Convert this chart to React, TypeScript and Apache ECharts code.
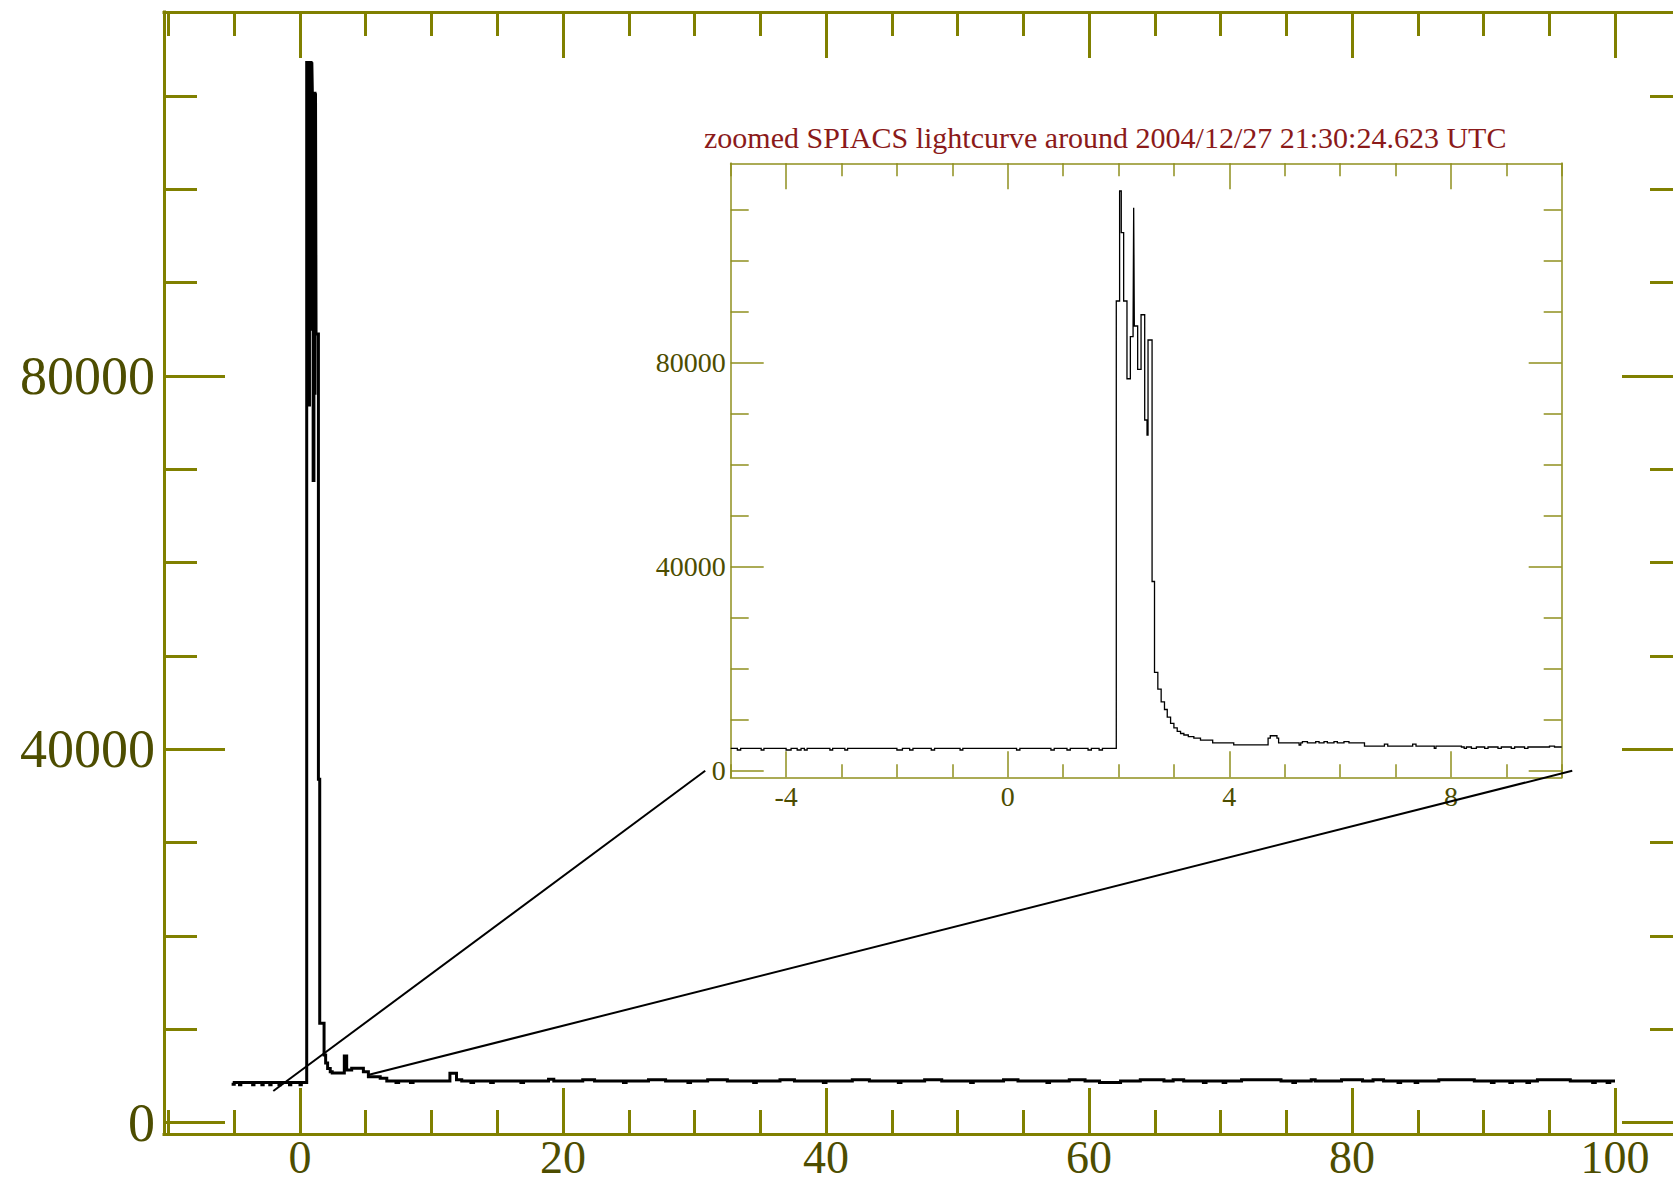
import React, { useEffect, useRef } from "react";
import * as echarts from "echarts";

// ---------- tick / label values ----------
const MAIN_X_MAJOR = [0, 20, 40, 60, 80, 100];
const MAIN_X_MINOR = [-10, -5, 5, 10, 15, 25, 30, 35, 45, 50, 55, 65, 70, 75, 85, 90, 95, 105];
const MAIN_Y_MAJOR = [0, 40000, 80000];
const MAIN_Y_MINOR = [10000, 20000, 30000, 50000, 60000, 70000, 90000, 100000, 110000];
const INSET_X_MAJOR = [-4, 0, 4, 8];
const INSET_X_MINOR = [-5, -3, -2, -1, 1, 2, 3, 5, 6, 7, 9, 10];
const INSET_Y_MAJOR = [0, 40000, 80000];
const INSET_Y_MINOR = [10000, 20000, 30000, 50000, 60000, 70000, 90000, 100000, 110000];

const INSET_TITLE = "zoomed SPIACS lightcurve around 2004/12/27 21:30:24.623 UTC";

// ---------- main light curve (bin start time [s], counts) ----------
const mainTime = [
  -5.2, -5.0, -4.6, -4.5, -3.6, -3.5, -2.9, -2.8, -2.3, -2.2, -1.6, -1.5, -0.8, -0.7, 0.0, 0.1,
  0.51, 0.66, 0.72, 0.84, 0.9, 0.94, 1.0, 1.06, 1.14, 1.18, 1.22, 1.4, 1.5,
  1.83, 1.95, 2.1, 2.3, 2.45, 3.37, 3.55, 3.93, 4.82, 5.2, 6.1, 6.6,
  7.3, 7.5, 8.4, 8.6, 11.4, 11.9, 12.3, 13.0, 13.2, 14.5, 14.7, 16.8, 17.0, 18.9, 19.3,
  21.5, 22.4, 24.6, 24.8, 26.5, 27.8, 29.5, 29.7, 31.0, 32.5, 34.5, 34.7, 36.5, 37.6, 39.8, 40.0,
  42.0, 43.3, 45.5, 45.7, 47.5, 48.8, 51.0, 51.2, 53.5, 54.6, 56.8, 57.0, 58.5, 59.7, 60.8, 62.4,
  63.9, 65.7, 66.4, 67.2, 68.7, 68.9, 70.2, 70.4, 71.6, 74.6, 75.5, 75.7, 76.9, 77.2, 79.2, 80.8,
  81.6, 82.4, 83.5, 83.7, 84.8, 85.0, 86.6, 89.3, 90.6, 90.8, 92.0, 92.2, 93.3, 93.5, 94.1, 96.6,
  98.3, 98.5, 99.4, 99.6, 100.0,
];
const mainCounts = [
  4100, 4300, 4050, 4300, 4050, 4300, 4050, 4300, 4050, 4300, 4050, 4300, 4050, 4300, 4050, 4300,
  113600, 76900, 113600, 85000, 113600, 110300, 68800, 110300, 78000, 110300, 84500, 36800, 10640,
  7240, 6400, 5800, 5460, 5310, 7140, 5640, 5820, 5460, 4920, 4750, 4460,
  4300, 4460, 4300, 4460, 5280, 4600, 4460, 4300, 4460, 4300, 4460, 4300, 4460, 4650, 4460,
  4600, 4460, 4300, 4460, 4600, 4460, 4300, 4460, 4600, 4460, 4300, 4460, 4600, 4460, 4300, 4460,
  4600, 4460, 4300, 4460, 4600, 4460, 4300, 4460, 4600, 4460, 4300, 4460, 4600, 4460, 4300, 4460,
  4600, 4460, 4600, 4460, 4300, 4460, 4300, 4460, 4600, 4460, 4300, 4460, 4600, 4460, 4600, 4460,
  4600, 4460, 4300, 4460, 4300, 4460, 4600, 4460, 4300, 4460, 4300, 4460, 4300, 4460, 4600, 4460,
  4300, 4460, 4300, 4460, 4460,
];

// ---------- zoomed light curve (bin start time [s], counts) ----------
const insetTime = [
  -5.0, -4.88, -4.82, -4.45, -4.4, -4.0, -3.91, -3.8, -3.73, -3.67, -3.62, -3.21, -3.16, -2.94, -2.89,
  -2.0, -1.9, -1.77, -1.71, -1.38, -1.32, -0.86, -0.81, 0.16, 0.22, 0.78, 0.84, 1.07, 1.13, 1.45, 1.51,
  1.65, 1.71,
  1.96, 2.02, 2.05, 2.093, 2.153, 2.214, 2.263, 2.274, 2.286, 2.346, 2.407, 2.473, 2.515, 2.533, 2.606,
  2.65, 2.71, 2.77, 2.83, 2.88, 2.94, 3.0, 3.06, 3.12, 3.18, 3.26, 3.36, 3.48, 3.7, 4.08,
  4.7, 4.74, 4.86, 4.89, 5.26, 5.29, 5.32, 5.41, 5.56, 5.62, 5.71, 5.77, 5.89, 5.95, 6.07, 6.16,
  6.44, 6.8, 6.86, 7.31, 7.37, 7.7, 7.73, 8.19, 8.24, 8.28, 8.37, 8.46, 8.61, 8.67, 8.85, 8.91,
  9.09, 9.15, 9.33, 9.39, 9.78, 9.87, 10.0,
];
const insetCounts = [
  4390, 4060, 4390, 4060, 4390, 4060, 4390, 4060, 4390, 4060, 4390, 4060, 4390, 4060, 4390,
  4060, 4390, 4060, 4390, 4060, 4390, 4060, 4390, 4060, 4390, 4060, 4390, 4060, 4390, 4060, 4390,
  4060, 4390,
  92100, 113670, 105490, 92100, 76860, 85100, 87200, 110400, 87200, 78700, 89400, 68770, 65820, 84450, 37100,
  19300, 16000, 13500, 12000, 10500, 9300, 8400, 7700, 7300, 7000, 6700, 6400, 6000, 5450, 5050,
  6400, 6860, 6400, 5450, 5040, 5450, 5690, 5450, 5690, 5450, 5690, 5450, 5690, 5450, 5690, 5450,
  4840, 5230, 4840, 5230, 4840, 4390, 4840, 4650, 4390, 4650, 4390, 4650, 4390, 4650, 4390, 4650,
  4390, 4650, 4390, 4650, 4840, 4650, 4650,
];

// ---------- zoom connector lines: main-plot point -> inset point ----------
const zoomFromMain = [[-2.03, 3386], [5.17, 5100]];
const zoomToInset = [[-5.46, 0], [10.19, 0]];

const SERIF = "'Liberation Serif', 'Times New Roman', serif";
const OLIVE = "#808000";
const INSET_OLIVE = "#8f8f1e";
const LABEL = "#4d4d00";

const plain = (v: number) => String(v);

function axis(
  grid: number,
  position: string,
  min: number,
  max: number,
  ticks: number[],
  tickLen: number,
  showLine: boolean,
  color: string,
  width: number,
  labels?: number[],
  labelStyle?: any
) {
  return {
    type: "value",
    gridIndex: grid,
    position,
    min,
    max,
    axisLine: { show: showLine, onZero: false, lineStyle: { color, width, cap: "square" } },
    axisTick: {
      show: true,
      inside: true,
      length: tickLen,
      customValues: ticks,
      lineStyle: { color, width },
    },
    axisLabel: labels
      ? { show: true, customValues: labels, formatter: plain, ...labelStyle }
      : { show: false },
    splitLine: { show: false },
  };
}

const CHART_W = 1700;

export default function App() {
  const ref = useRef<HTMLDivElement>(null);
  useEffect(() => {
    if (!ref.current) return;
    const chart = echarts.init(ref.current, undefined, { renderer: "svg" });

    const mXmin = -10.342, mXmax = 105.17, mYmin = -1220, mYmax = 119000;
    const iXmin = -5, iXmax = 10, iYmin = -1290, iYmax = 119100;

    const mainLab = { fontFamily: SERIF, fontSize: 54, color: LABEL };
    const insLab = { fontFamily: SERIF, fontSize: 28, color: LABEL };

    const mainData = mainTime.map((t, i) => [t, mainCounts[i]]);
    const insetData = insetTime.map((t, i) => [t, insetCounts[i]]);

    chart.setOption({
      animation: false,
      backgroundColor: "#ffffff",
      title: {
        text: INSET_TITLE,
        left: 699,
        top: 117,
        textStyle: { fontFamily: SERIF, fontSize: 30, fontWeight: "normal", color: "#8b1a1a" },
      },
      grid: [
        { left: 164, right: CHART_W - 1683, top: 12, bottom: 51, containLabel: false },
        { left: 730.7, top: 163.3, width: 831, height: 614, containLabel: false },
      ],
      xAxis: [
        axis(0, "bottom", mXmin, mXmax, MAIN_X_MAJOR, 46, true, OLIVE, 3, MAIN_X_MAJOR, {
          ...mainLab,
          fontSize: 46,
          margin: 3,
          lineHeight: 40,
        }),
        axis(0, "bottom", mXmin, mXmax, MAIN_X_MINOR, 24, false, OLIVE, 3),
        axis(0, "top", mXmin, mXmax, MAIN_X_MAJOR, 46, true, OLIVE, 3),
        axis(0, "top", mXmin, mXmax, MAIN_X_MINOR, 24, false, OLIVE, 3),
        axis(1, "bottom", iXmin, iXmax, INSET_X_MAJOR, 26, true, INSET_OLIVE, 1.5, INSET_X_MAJOR, { ...insLab, margin: 5 }),
        axis(1, "bottom", iXmin, iXmax, INSET_X_MINOR, 13, false, INSET_OLIVE, 1.5),
        axis(1, "top", iXmin, iXmax, INSET_X_MAJOR, 26, true, INSET_OLIVE, 1.5),
        axis(1, "top", iXmin, iXmax, INSET_X_MINOR, 13, false, INSET_OLIVE, 1.5),
      ],
      yAxis: [
        axis(0, "left", mYmin, mYmax, MAIN_Y_MAJOR, 61, true, OLIVE, 3, MAIN_Y_MAJOR, { ...mainLab, margin: 9 }),
        axis(0, "left", mYmin, mYmax, MAIN_Y_MINOR, 33, false, OLIVE, 3),
        axis(0, "right", mYmin, mYmax, MAIN_Y_MAJOR, 61, true, OLIVE, 3),
        axis(0, "right", mYmin, mYmax, MAIN_Y_MINOR, 33, false, OLIVE, 3),
        axis(1, "left", iYmin, iYmax, INSET_Y_MAJOR, 33, true, INSET_OLIVE, 1.5, INSET_Y_MAJOR, { ...insLab, margin: 5 }),
        axis(1, "left", iYmin, iYmax, INSET_Y_MINOR, 18, false, INSET_OLIVE, 1.5),
        axis(1, "right", iYmin, iYmax, INSET_Y_MAJOR, 33, true, INSET_OLIVE, 1.5),
        axis(1, "right", iYmin, iYmax, INSET_Y_MINOR, 18, false, INSET_OLIVE, 1.5),
      ],
      series: [
        {
          type: "line",
          xAxisIndex: 0,
          yAxisIndex: 0,
          data: mainData,
          step: "end",
          symbol: "none",
          clip: true,
          lineStyle: { color: "#000", width: 3, join: "miter", cap: "butt" },
        },
        {
          type: "line",
          xAxisIndex: 4,
          yAxisIndex: 4,
          data: insetData,
          step: "end",
          symbol: "none",
          clip: true,
          lineStyle: { color: "#000", width: 1.3, join: "miter", cap: "butt" },
        },
      ],
    });

    const lines = zoomFromMain.map((p, i) => {
      const a = chart.convertToPixel({ seriesIndex: 0 }, p) as number[];
      const b = chart.convertToPixel({ seriesIndex: 1 }, zoomToInset[i]) as number[];
      return {
        type: "line",
        shape: { x1: a[0], y1: a[1], x2: b[0], y2: b[1] },
        style: { stroke: "#000", lineWidth: 2 },
        z: 10,
      };
    });
    chart.setOption({ graphic: lines });

    return () => chart.dispose();
  }, []);

  return (
    <div
      style={{
        position: "absolute",
        left: 0,
        top: 0,
        width: 1673,
        height: 1185,
        overflow: "hidden",
        background: "#fff",
      }}
    >
      <div ref={ref} style={{ width: CHART_W, height: 1185 }} />
    </div>
  );
}
